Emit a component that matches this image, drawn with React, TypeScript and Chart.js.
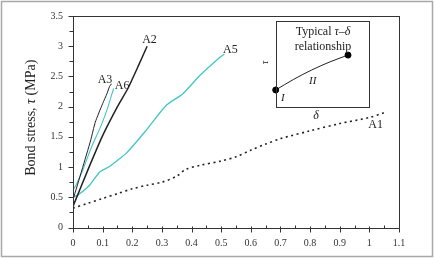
import React, { useEffect, useRef } from "react";
import { Chart, registerables } from "chart.js";

Chart.register(...registerables);

// ---- axis ticks ----
const xTickValues = [0, 0.1, 0.2, 0.3, 0.4, 0.5, 0.6, 0.7, 0.8, 0.9, 1, 1.1];
const xTickLabels = ["0", "0.1", "0.2", "0.3", "0.4", "0.5", "0.6", "0.7", "0.8", "0.9", "1", "1.1"];
const yTickValues = [0, 0.5, 1, 1.5, 2, 2.5, 3, 3.5];
const yTickLabels = ["0", "0.5", "1", "1.5", "2", "2.5", "3", "3.5"];

// ---- series (slip δ, bond stress τ) ----
const a1X = [0, 0.05, 0.1, 0.15, 0.2, 0.25, 0.3, 0.35, 0.38, 0.43, 0.5, 0.55, 0.6, 0.65, 0.7, 0.8, 0.9, 1.0, 1.05];
const a1Y = [0.32, 0.4, 0.48, 0.56, 0.64, 0.7, 0.75, 0.85, 0.96, 1.03, 1.1, 1.17, 1.28, 1.38, 1.47, 1.6, 1.72, 1.82, 1.9];

const a2X = [0, 0.05, 0.1, 0.15, 0.185, 0.22, 0.25];
const a2Y = [0.35, 0.95, 1.52, 2.0, 2.3, 2.67, 3.0];

const a3X = [0, 0.03, 0.06, 0.075, 0.1, 0.115, 0.123, 0.13];
const a3Y = [0.46, 0.95, 1.45, 1.74, 2.05, 2.22, 2.33, 2.38];

const a5X = [0, 0.02, 0.056, 0.09, 0.12, 0.15, 0.18, 0.247, 0.314, 0.37, 0.427, 0.494, 0.511];
const a5Y = [0.5, 0.55, 0.7, 0.92, 1.0, 1.11, 1.23, 1.61, 2.02, 2.21, 2.51, 2.81, 2.87];

const a6X = [0, 0.01, 0.032, 0.06, 0.095, 0.115, 0.137];
const a6Y = [0.62, 0.7, 0.94, 1.3, 1.69, 1.95, 2.3];

// ---- inset schematic curve (drawn in main-axis units) ----
const insetX = [0.684, 0.745, 0.806, 0.867, 0.928];
const insetY = [2.276, 2.453, 2.608, 2.741, 2.853];
const insetBoxX = [0.684, 0.998];
const insetBoxY = [2.0, 3.413];

// ---- text labels: [text, x, y] in axis units ----
const seriesLabels: [string, number, number][] = [
  ["A2", 0.258, 3.11],
  ["A3", 0.108, 2.45],
  ["A6", 0.166, 2.35],
  ["A5", 0.531, 2.94],
  ["A1", 1.021, 1.705],
];

const SERIF = "'Liberation Serif', 'Times New Roman', serif";
const CYAN = "#42c6c9";
const INK = "#222222";

const pts = (xs: number[], ys: number[]) => xs.map((x, i) => ({ x, y: ys[i] }));

type Run = [string, boolean];

function drawRuns(ctx: CanvasRenderingContext2D, runs: Run[], cx: number, cy: number, size: number) {
  const fonts = runs.map(([, it]) => `${it ? "italic " : ""}${size}px ${SERIF}`);
  const widths = runs.map(([t], i) => {
    ctx.font = fonts[i];
    return ctx.measureText(t).width;
  });
  const total = widths.reduce((a, b) => a + b, 0);
  let x = cx - total / 2;
  ctx.textAlign = "left";
  ctx.textBaseline = "middle";
  runs.forEach(([t], i) => {
    ctx.font = fonts[i];
    ctx.fillText(t, x, cy);
    x += widths[i];
  });
}

const decorPlugin = {
  id: "decor",
  afterDraw(chart: any) {
    const ctx: CanvasRenderingContext2D = chart.ctx;
    const xs = chart.scales.x;
    const ys = chart.scales.y;
    const a = chart.chartArea;
    const X = (v: number) => xs.getPixelForValue(v);
    const Y = (v: number) => ys.getPixelForValue(v);
    ctx.save();

    // outer frame
    ctx.strokeStyle = "#a8a8a8";
    ctx.lineWidth = 1.5;
    ctx.strokeRect(1.5, 1.5, chart.width - 3, chart.height - 3);

    // plot box
    ctx.strokeStyle = "#333";
    ctx.lineWidth = 1;
    ctx.strokeRect(Math.round(a.left) + 0.5, Math.round(a.top) + 0.5, Math.round(a.right - a.left), Math.round(a.bottom - a.top));

    // ticks
    ctx.beginPath();
    const by = Math.round(a.bottom) + 0.5;
    xTickValues.forEach((v, i) => {
      const px = Math.round(X(v)) + 0.5;
      ctx.moveTo(px, by - 2);
      ctx.lineTo(px, by + 4);
      if (i < xTickValues.length - 1) {
        const mx = Math.round(X((v + xTickValues[i + 1]) / 2)) + 0.5;
        ctx.moveTo(mx, by - 3);
        ctx.lineTo(mx, by);
      }
    });
    const lx = Math.round(a.left) + 0.5;
    yTickValues.forEach((v, i) => {
      const py = Math.round(Y(v)) + 0.5;
      ctx.moveTo(lx - 5, py);
      ctx.lineTo(lx, py);
      if (i < yTickValues.length - 1) {
        const my = Math.round(Y((v + yTickValues[i + 1]) / 2)) + 0.5;
        ctx.moveTo(lx - 4, my);
        ctx.lineTo(lx, my);
      }
    });
    ctx.stroke();

    // y-axis title
    ctx.fillStyle = INK;
    ctx.save();
    ctx.translate(a.left - 42, (a.top + a.bottom) / 2 - 4);
    ctx.rotate(-Math.PI / 2);
    drawRuns(ctx, [["Bond stress, ", false], ["τ", true], [" (MPa)", false]], 0, 0, 14);
    ctx.restore();

    // series labels
    seriesLabels.forEach(([t, x, y]) => drawRuns(ctx, [[t, false]], X(x), Y(y), 12));

    // inset box
    ctx.strokeStyle = "#333";
    ctx.lineWidth = 1;
    const bx0 = Math.round(X(insetBoxX[0])) + 0.5;
    const bx1 = Math.round(X(insetBoxX[1])) + 0.5;
    const by0 = Math.round(Y(insetBoxY[1])) + 0.5;
    const by1 = Math.round(Y(insetBoxY[0])) + 0.5;
    ctx.strokeRect(bx0, by0, bx1 - bx0, by1 - by0);
    const cx = (bx0 + bx1) / 2;
    drawRuns(ctx, [["Typical ", false], ["τ", true], ["–", false], ["δ", true]], cx, by0 + 10, 12);
    drawRuns(ctx, [["relationship", false]], cx, by0 + 25, 12);
    drawRuns(ctx, [["II", true]], X(0.809), Y(2.43), 11);
    drawRuns(ctx, [["I", true]], X(0.708), Y(2.138), 11);
    drawRuns(ctx, [["δ", true]], X(0.82), Y(1.853), 12);
    ctx.save();
    ctx.translate(bx0 - 11, Y(2.73));
    ctx.rotate(-Math.PI / 2);
    drawRuns(ctx, [["τ", true]], 0, 0, 10);
    ctx.restore();

    ctx.restore();
  },
};

export default function App() {
  const ref = useRef<HTMLCanvasElement | null>(null);

  useEffect(() => {
    if (!ref.current) return;
    const tickFont = { family: SERIF, size: 10 };
    const lastInset = insetX.length - 1;
    const chart = new Chart(ref.current, {
      type: "line",
      data: {
        datasets: [
          { label: "A1", data: pts(a1X, a1Y), borderColor: INK, borderWidth: 1.6, borderDash: [2, 3.5], pointRadius: 0, tension: 0.3 },
          { label: "A2", data: pts(a2X, a2Y), borderColor: INK, borderWidth: 1.5, pointRadius: 0, tension: 0.2 },
          { label: "A3", data: pts(a3X, a3Y), borderColor: INK, borderWidth: 1, pointRadius: 0, tension: 0.2 },
          { label: "A5", data: pts(a5X, a5Y), borderColor: CYAN, borderWidth: 1.3, pointRadius: 0, tension: 0.2 },
          { label: "A6", data: pts(a6X, a6Y), borderColor: CYAN, borderWidth: 1.1, pointRadius: 0, tension: 0.2 },
          {
            label: "inset",
            data: pts(insetX, insetY),
            borderColor: INK,
            borderWidth: 1,
            cubicInterpolationMode: "monotone",
            pointRadius: (c: any) => (c.dataIndex === 0 || c.dataIndex === lastInset ? 3 : 0),
            pointBackgroundColor: "#000",
            pointBorderColor: "#000",
          },
        ] as any,
      },
      options: {
        animation: false,
        responsive: false,
        layout: { padding: { left: 0, right: 35, top: 15, bottom: 0 } },
        plugins: { legend: { display: false }, tooltip: { enabled: false } },
        scales: {
          x: {
            type: "linear",
            min: 0,
            max: 1.1,
            grid: { display: false, drawTicks: false },
            border: { display: false },
            afterBuildTicks: (s: any) => {
              s.ticks = xTickValues.map((v) => ({ value: v }));
            },
            afterFit: (s: any) => {
              s.height = 30.5;
            },
            ticks: {
              padding: 10,
              color: "#333",
              font: tickFont,
              maxRotation: 0,
              autoSkip: false,
              callback: (_v: any, i: number) => xTickLabels[i],
            },
          },
          y: {
            type: "linear",
            min: 0,
            max: 3.5,
            grid: { display: false, drawTicks: false },
            border: { display: false },
            afterBuildTicks: (s: any) => {
              s.ticks = yTickValues.map((v) => ({ value: v }));
            },
            afterFit: (s: any) => {
              s.width = 73;
            },
            ticks: {
              padding: 10,
              color: "#333",
              font: tickFont,
              autoSkip: false,
              callback: (_v: any, i: number) => yTickLabels[i],
            },
          },
        },
      } as any,
      plugins: [decorPlugin],
    });
    return () => chart.destroy();
  }, []);

  return (
    <div style={{ position: "absolute", left: 0, top: 0, width: 434, height: 258, background: "#fff" }}>
      <canvas ref={ref} width={434} height={258} style={{ display: "block" }} />
    </div>
  );
}
